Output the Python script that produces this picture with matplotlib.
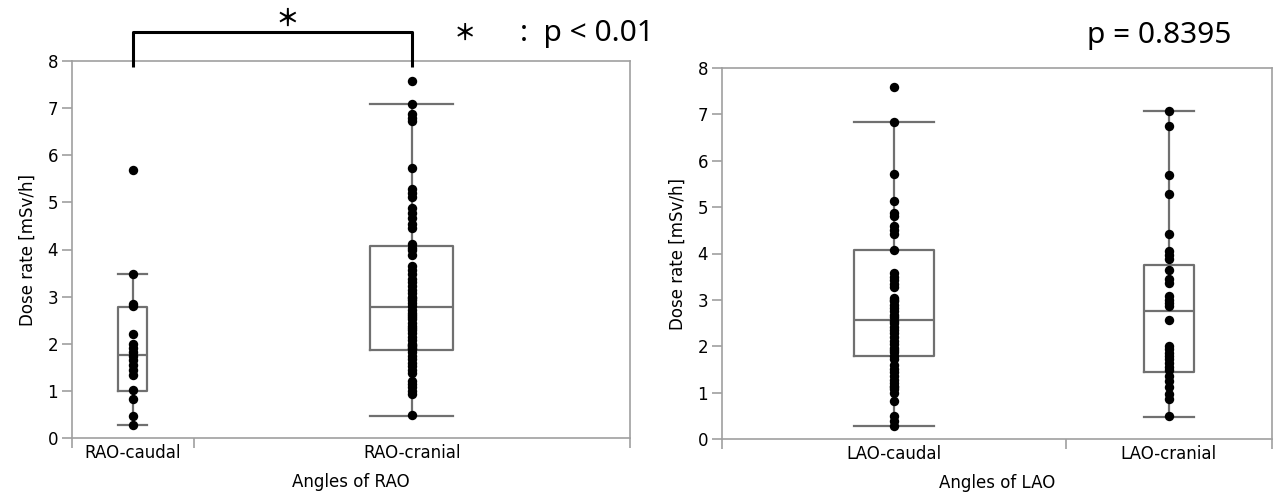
import numpy as np
import matplotlib
matplotlib.use("Agg")
import matplotlib.pyplot as plt
import matplotlib.transforms as mtransforms

plt.rcParams["font.family"] = ["DejaVu Sans"]

# ---- data ----
rao_labels = ["RAO-caudal", "RAO-cranial"]
rao_caudal = [0.27, 0.46, 0.82, 1.01, 1.33, 1.44, 1.54, 1.65, 1.75, 1.82,
              1.90, 2.00, 2.21, 2.80, 2.85, 3.47, 5.69]
rao_cranial = [7.57, 7.08, 6.88, 6.78, 6.72, 5.74, 5.29, 5.20, 5.12, 4.88,
               4.77, 4.66, 4.55, 4.45, 4.12, 4.03, 3.98, 3.88, 3.66, 3.57,
               3.47, 3.38, 3.30, 3.22, 3.15, 3.08, 3.00, 2.98, 2.93, 2.86,
               2.80, 2.72, 2.65, 2.60, 2.56, 2.52, 2.45, 2.38, 2.34, 2.30,
               2.22, 2.15, 2.08, 2.00, 1.98, 1.95, 1.90, 1.88, 1.82, 1.75,
               1.68, 1.60, 1.52, 1.45, 1.38, 1.22, 1.15, 1.08, 1.00, 0.93,
               0.49]
# whisker low, q1, median, q3, whisker high
rao_box = [[0.27, 1.00, 1.77, 2.77, 3.47],
           [0.47, 1.87, 2.79, 4.07, 7.08]]

lao_labels = ["LAO-caudal", "LAO-cranial"]
lao_caudal = [7.58, 6.84, 5.72, 5.13, 4.87, 4.80, 4.59, 4.50, 4.41, 4.08,
              3.58, 3.50, 3.42, 3.34, 3.28, 3.04, 3.00, 2.97, 2.90, 2.83,
              2.76, 2.68, 2.62, 2.55, 2.50, 2.42, 2.36, 2.28, 2.20, 2.12,
              2.04, 1.96, 1.92, 1.88, 1.80, 1.72, 1.60, 1.52, 1.44, 1.36,
              1.28, 1.20, 1.14, 1.12, 1.08, 1.00, 0.83, 0.49, 0.38, 0.27]
lao_cranial = [7.08, 6.76, 5.70, 5.29, 4.43, 4.05, 3.97, 3.88, 3.65, 3.44,
               3.36, 3.08, 3.00, 2.93, 2.86, 2.57, 2.01, 1.93, 1.86, 1.79,
               1.72, 1.64, 1.56, 1.48, 1.35, 1.25, 1.12, 0.98, 0.86, 0.49]
lao_box = [[0.27, 1.78, 2.56, 4.07, 6.84],
           [0.47, 1.44, 2.75, 3.76, 7.08]]

W, H = 1274, 495
SPINE = "#a0a0a0"
BOXC = "#707070"


def px(x, y):
    return x / W, 1 - y / H


def draw_panel(ax, labels, groups, boxes, widths, xlabel):
    counts = [len(g) for g in groups]
    edges = np.concatenate([[0], np.cumsum(counts)])
    centers = (edges[:-1] + edges[1:]) / 2

    stats = []
    for lab, b in zip(labels, boxes):
        stats.append(dict(label=lab, whislo=b[0], q1=b[1], med=b[2], q3=b[3], whishi=b[4]))
    ax.bxp(stats, positions=centers, widths=widths, capwidths=widths,
           showfliers=False, manage_ticks=False,
           boxprops=dict(color=BOXC, lw=1.6),
           whiskerprops=dict(color=BOXC, lw=1.6),
           capprops=dict(color=BOXC, lw=1.6),
           medianprops=dict(color=BOXC, lw=1.6))
    for c, g in zip(centers, groups):
        ax.scatter(np.full(len(g), c), g, s=46, color="black", zorder=3, linewidths=0)

    ax.set_xlim(0, edges[-1])
    ax.set_ylim(0, 8)
    ax.set_yticks(range(0, 9))
    ax.set_xticks(edges)
    ax.set_xticklabels([])
    ax.set_xticks(centers, minor=True)
    ax.set_xticklabels(labels, minor=True, fontsize=12)
    ax.tick_params(axis="x", which="major", length=7, color=SPINE, width=1.2)
    ax.tick_params(axis="x", which="minor", length=0, pad=4)
    ax.tick_params(axis="y", length=7, color=SPINE, width=1.2, labelsize=12, pad=3)
    for s in ax.spines.values():
        s.set_color(SPINE)
        s.set_linewidth(1.2)
    ax.set_ylabel("Dose rate [mSv/h]", fontsize=12, labelpad=8)
    ax.set_xlabel(xlabel, fontsize=12, labelpad=8)
    return centers


fig = plt.figure(figsize=(W / 100, H / 100), dpi=100)
ax1 = fig.add_axes([72 / W, (H - 438) / H, 558 / W, 377 / H])
ax2 = fig.add_axes([722 / W, (H - 439) / H, 550 / W, 371 / H])

c1 = draw_panel(ax1, rao_labels, [rao_caudal, rao_cranial], rao_box, [4.1, 11.6], "Angles of RAO")
c2 = draw_panel(ax2, lao_labels, [lao_caudal, lao_cranial], lao_box, [11.6, 7.3], "Angles of LAO")

# significance bracket
tr = mtransforms.blended_transform_factory(ax1.transData, fig.transFigure)
y_top = px(0, 32)[1]
y_bot = px(0, 67)[1]
ax1.plot([c1[0], c1[0], c1[1], c1[1]], [y_bot, y_top, y_top, y_bot], color="black",
         lw=2.2, transform=tr, clip_on=False, solid_capstyle="butt", zorder=5)

jp = ["Noto Sans CJK JP", "DejaVu Sans"]
lat = ["Noto Sans", "DejaVu Sans"]
fig.text(*px(287, 19), "＊", ha="center", va="center", fontsize=17, family=jp, weight="bold")
fig.text(*px(465, 33), "＊", ha="center", va="center", fontsize=16, family=jp, weight="bold")
fig.text(*px(520, 34), ":  p < 0.01", ha="left", va="center", fontsize=21.5, family=lat)
fig.text(*px(1087, 35), "p = 0.8395", ha="left", va="center", fontsize=21.5, family=lat)

fig.savefig("out.png", dpi=100)
